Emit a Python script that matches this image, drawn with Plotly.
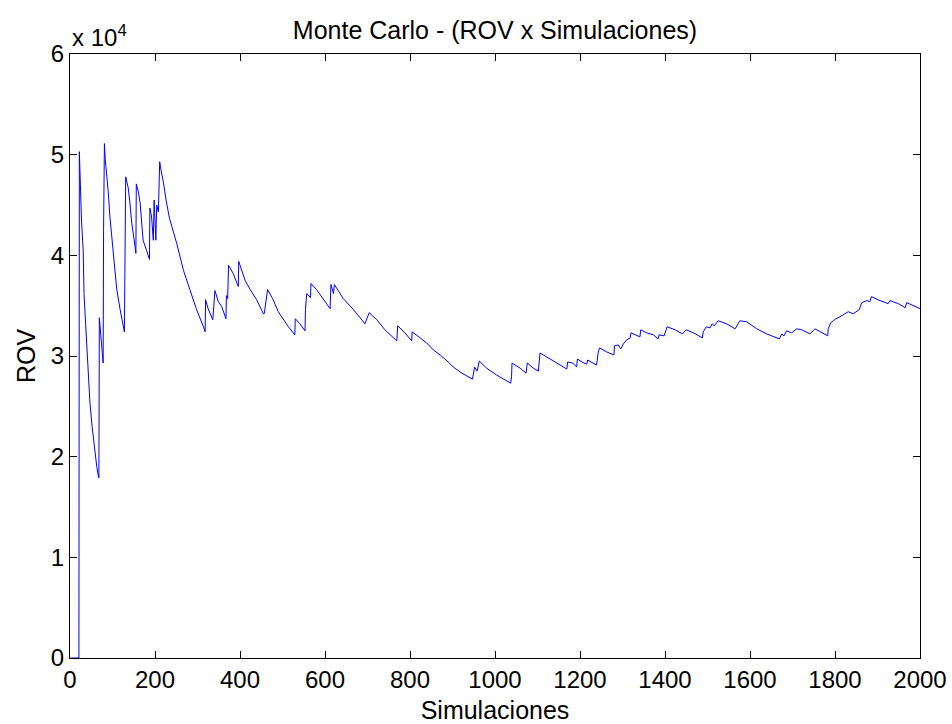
import plotly.graph_objects as go

# Simulation index (x) and ROV value (y)
sim = [1, 21, 22, 24, 27, 31, 33, 37, 42, 47, 52, 57, 63, 67, 68,
       69, 72, 75, 78, 79, 81, 83, 86, 90, 94, 102, 110, 118, 125, 128,
       131, 137, 141, 145, 153, 155, 156, 161, 165, 172, 180, 187,
       188, 192, 196, 198, 202, 204, 208, 211, 214, 220, 226, 234,
       251, 267, 282, 298, 314, 318,
       319, 325, 336, 341, 349, 357, 367, 368, 371, 373, 384, 392, 396,
       397, 412, 424, 439, 455, 457, 465, 478, 490, 502, 514, 529,
       530, 541, 553, 554, 557, 566, 567, 580, 596, 612, 614, 620, 622,
       643, 667, 694, 704, 722, 741, 753, 769, 771, 788, 804,
       805, 824, 839, 855, 871, 890, 902, 922, 947,
       952, 958, 963, 980, 1004, 1024, 1037, 1039, 1040, 1059, 1073,
       1076, 1090, 1102, 1106, 1122, 1141, 1161, 1169, 1171, 1183, 1192,
       1194, 1209, 1216, 1218, 1231, 1239, 1243, 1246, 1263, 1280,
       1281, 1290, 1296, 1302, 1310, 1318, 1320, 1329, 1341, 1343,
       1357, 1373, 1384, 1386, 1398, 1405, 1424, 1441, 1450, 1467,
       1488, 1490, 1497, 1506, 1511, 1516, 1525, 1545, 1565, 1576,
       1592, 1616, 1639, 1669, 1675, 1680, 1686, 1698, 1710, 1722,
       1741, 1753, 1765, 1783, 1784, 1790, 1796, 1802, 1812, 1820,
       1831, 1843, 1857, 1863, 1875, 1882, 1886, 1906, 1925, 1929,
       1949, 1965, 1969, 2000]

rov = [0, 0, 50300, 47500, 43500, 40500, 36200, 33000, 28500, 25300, 23000, 21000, 19000, 18000, 17900,
       33800, 32000, 30300, 29300, 42500, 51100, 49500, 48300, 46300, 43800, 39900, 36600, 34600, 32800, 32400,
       47800, 46700, 45200, 43300, 40900, 40200, 47100, 46300, 45200, 41500, 40500, 39600,
       44700, 43800, 41500, 45500, 41500, 45000, 44300, 49300, 48500, 47200, 45500, 43700,
       41200, 38500, 36600, 34600, 32900, 32400,
       35600, 34700, 33600, 36500, 35400, 34900, 33700, 36000, 35700, 39000, 38200, 37200, 36900,
       39400, 37500, 36600, 35600, 34200, 34200, 36600, 35600, 34400, 33600, 32900, 32100,
       33700, 33200, 32500, 34600, 36200, 35800, 37200, 36600, 35600, 34700, 37100, 36200, 37100,
       35700, 34600, 33200, 34300, 33600, 32600, 32100, 31500, 33000, 32300, 31500,
       32400, 31800, 31300, 30600, 30100, 29400, 28900, 28300, 27700,
       28900, 28500, 29500, 28800, 28100, 27600, 27300, 28000, 29300, 28800, 28300,
       29300, 28800, 28500, 30300, 29900, 29400, 28900, 28700, 29400, 29300, 28900,
       29700, 29300, 29200, 29600, 29300, 29100, 30400, 30800, 30400, 30100,
       31000, 31100, 30700, 31200, 31600, 31800, 32300, 32100, 31900, 32600,
       32300, 32100, 31700, 32100, 32000, 32900, 32600, 32200, 32600, 32300,
       31800, 32400, 32900, 32800, 33200, 33000, 33500, 33200, 32700, 33500,
       33400, 32700, 32200, 31700, 32200, 32000, 32500, 32300, 32700, 32600,
       32200, 32700, 32400, 32000, 32700, 33300, 33500, 33700, 33900, 34100,
       34400, 34200, 34600, 35300, 35500, 35400, 35900, 35500, 35200, 35500,
       35200, 34800, 35300, 34700]

x_ticks = [0, 200, 400, 600, 800, 1000, 1200, 1400, 1600, 1800, 2000]
y_ticks = [0, 10000, 20000, 30000, 40000, 50000, 60000]
y_tick_text = ["0", "1", "2", "3", "4", "5", "6"]

FONT = "Liberation Sans, Arial, Helvetica, sans-serif"

fig = go.Figure()
fig.add_trace(go.Scatter(x=sim, y=rov, mode="lines",
                         line=dict(color="#0000ff", width=1),
                         showlegend=False, hoverinfo="x+y"))

axis_common = dict(showline=True, linecolor="black", linewidth=1, mirror="ticks",
                   ticks="inside", ticklen=7, tickcolor="black", tickwidth=1,
                   showgrid=False, zeroline=False, automargin=False,
                   tickfont=dict(family=FONT, size=24, color="black"))

fig.update_xaxes(range=[0, 2000], tickvals=x_ticks,
                 title=dict(text="Simulaciones", font=dict(family=FONT, size=25, color="black"), standoff=9),
                 **axis_common)
fig.update_yaxes(range=[0, 60000], tickvals=y_ticks, ticktext=y_tick_text,
                 title=dict(text="ROV", font=dict(family=FONT, size=25, color="black"), standoff=8),
                 **axis_common)

fig.update_layout(
    width=952, height=724,
    margin=dict(l=70, r=32, t=54, b=66, autoexpand=False),
    paper_bgcolor="white", plot_bgcolor="white",
    title=dict(text="Monte Carlo - (ROV x Simulaciones)",
               font=dict(family=FONT, size=25, color="black"),
               x=0.5, xref="paper", xanchor="center",
               y=1 - 30 / 724, yref="container", yanchor="middle"),
    annotations=[dict(text="x 10<sup>4</sup>", xref="paper", yref="paper",
                      x=0, y=1, xanchor="left", yanchor="bottom", yshift=1,
                      showarrow=False,
                      font=dict(family=FONT, size=24, color="black"))],
)

fig.write_html("out.html")
